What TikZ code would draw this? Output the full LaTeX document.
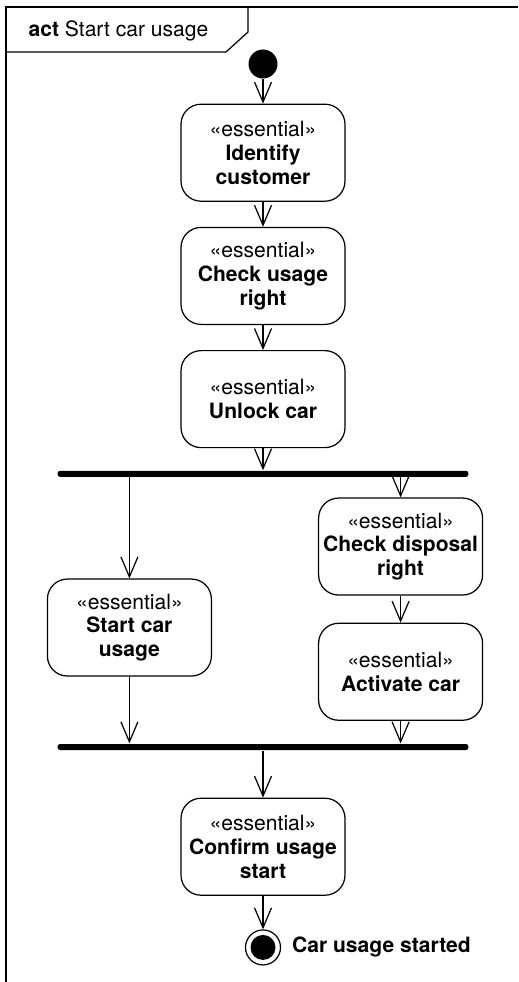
\documentclass[tikz,border=0pt]{standalone}
\usepackage{fontspec}
\setmainfont{TeX Gyre Heros}
\usetikzlibrary{arrows.meta,positioning}

\begin{document}
\begin{tikzpicture}[x=0.02cm,y=-0.02cm,line width=0.7pt,
  every node/.style={font=\fontsize{12pt}{13.6pt}\selectfont},
  action/.style={draw,rounded corners=0.4cm,minimum width=3.28cm,minimum height=1.94cm,align=center,inner sep=2pt},
  bar/.style={fill=black,rounded corners=0.05cm,minimum width=8.22cm,minimum height=0.12cm,inner sep=0pt},
  flow/.style={-{Straight Barb[length=0.4cm,width=0.34cm]}}]
  \useasboundingbox (0,0) rectangle (518,982);
  % frame and its name tab
  \draw (6,982) -- (6,7) -- (518,7);
  \draw (6,52) -- (226,52) -- (248,32) -- (248,7);
  \node[anchor=base west,inner sep=0pt] (title) at (28,37) {\textbf{act} Start car usage};

  \node[circle,fill=black,minimum size=0.58cm,inner sep=0pt] (start) at (263,64) {};
  \node[action,below=0.49cm of start] (identify)
    {«essential»\\\textbf{Identify}\\\textbf{customer}};
  \node[action,below=0.5cm of identify] (checkusage)
    {«essential»\\\textbf{Check usage}\\\textbf{right}};
  \node[action,below=0.5cm of checkusage] (unlock)
    {«essential»\\\textbf{Unlock car}};
  \node[bar,below=0.44cm of unlock] (fork) {};
  % the two branches
  \node[action,below=2.02cm of fork.south west,xshift=1.45cm] (startcar)
    {«essential»\\\textbf{Start car}\\\textbf{usage}};
  \node[action,below=0.4cm of fork.south east,xshift=-1.37cm] (checkdisp)
    {«essential»\\\textbf{Check disposal}\\\textbf{right}};
  \node[action,below=0.54cm of checkdisp] (activate)
    {«essential»\\\textbf{Activate car}};
  \node[bar,below=5.32cm of fork] (join) {};
  \node[action,below=0.94cm of join] (confirm)
    {«essential»\\\textbf{Confirm usage}\\\textbf{start}};
  \node[circle,draw,minimum size=0.7cm,inner sep=0pt,below=0.67cm of confirm,
    path picture={\fill (path picture bounding box.center) circle (0.25cm);}] (final) {};
  \node[right=0.09cm of final] (finallabel) {\textbf{Car usage started}};

  \draw[flow] (start) -- (identify);
  \draw[flow] (identify) -- (checkusage);
  \draw[flow] (checkusage) -- (unlock);
  \draw[flow] (unlock) -- (fork);
  \draw[flow] (startcar |- fork.south) -- (startcar);
  \draw[flow] (checkdisp |- fork.south) -- (checkdisp);
  \draw[flow] (checkdisp) -- (activate);
  \draw[flow] (startcar) -- (startcar |- join.north);
  \draw[flow] (activate) -- (activate |- join.north);
  \draw[flow] (join) -- (confirm);
  \draw[flow] (confirm) -- (final);
\end{tikzpicture}
\end{document}
